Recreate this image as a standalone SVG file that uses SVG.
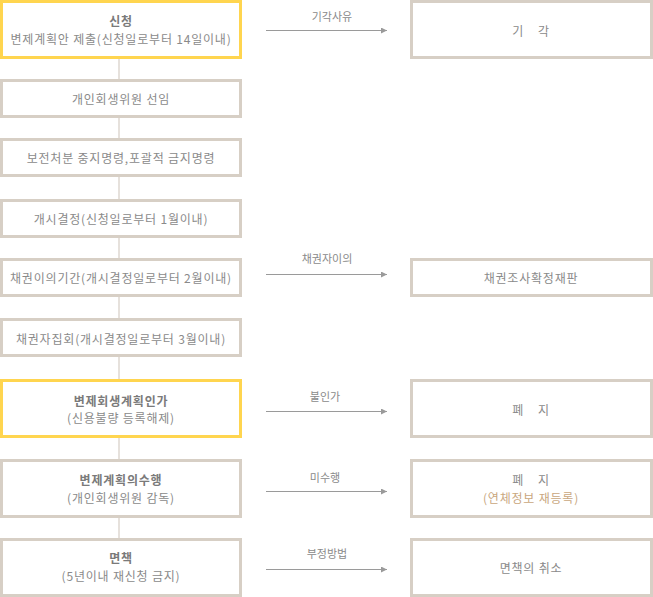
<svg xmlns="http://www.w3.org/2000/svg" width="653" height="597" viewBox="0 0 653 597">
<defs>
<marker id="ah" viewBox="0 0 6 6" refX="6" refY="3" markerWidth="6" markerHeight="6" markerUnits="userSpaceOnUse" orient="auto">
<path d="M0,0 L6,3 L0,6 z" fill="#9a9a9a"/>
</marker>
<style>
.box{fill:#fff;stroke:#d7cfc5;stroke-width:3}
.hi{fill:#fff;stroke:#ffd54f;stroke-width:3}
text{font-family:"Noto Sans CJK KR","Noto Sans",sans-serif;font-size:12px;fill:#8a8a8a;text-anchor:middle;dominant-baseline:central;white-space:pre}
.n text{letter-spacing:0.8px}
.b{font-weight:bold;fill:#7a7a7a}
.lbl{font-size:11px}
.or{fill:#c9a780}
.arr{stroke:#9a9a9a;stroke-width:1;fill:none;marker-end:url(#ah)}
.vl{stroke:#e6e1dc;stroke-width:2}
</style>
</defs>
<g id="connectors">
<line class="vl" x1="119" y1="59" x2="119" y2="538"/>
<line class="arr" x1="266" y1="30.5" x2="387" y2="30.5"/>
<line class="arr" x1="266" y1="274.5" x2="387" y2="274.5"/>
<line class="arr" x1="266" y1="411.5" x2="387" y2="411.5"/>
<line class="arr" x1="266" y1="491.5" x2="387" y2="491.5"/>
<line class="arr" x1="266" y1="569.5" x2="387" y2="569.5"/>
<text class="lbl" x="332" y="16">기각사유</text>
<text class="lbl" x="327" y="258">채권자이의</text>
<text class="lbl" x="325" y="396">불인가</text>
<text class="lbl" x="325" y="477">미수행</text>
<text class="lbl" x="327" y="553">부정방법</text>
</g>
<g id="n1" class="n"><rect class="hi" x="1.5" y="1.5" width="239" height="56"/><text class="b" x="121" y="20">신청</text><text x="121" y="38">변제계획안 제출(신청일로부터 14일이내)</text></g>
<g id="n2" class="n"><rect class="box" x="1.5" y="80.5" width="239" height="36"/><text x="121" y="98">개인회생위원 선임</text></g>
<g id="n3" class="n"><rect class="box" x="1.5" y="139.5" width="239" height="36"/><text x="121" y="157">보전처분 중지명령,포괄적 금지명령</text></g>
<g id="n4" class="n"><rect class="box" x="1.5" y="200.5" width="239" height="36"/><text x="121" y="218">개시결정(신청일로부터 1월이내)</text></g>
<g id="n5" class="n"><rect class="box" x="1.5" y="259.5" width="239" height="36"/><text x="121" y="277">채권이의기간(개시결정일로부터 2월이내)</text></g>
<g id="n6" class="n"><rect class="box" x="1.5" y="319.5" width="239" height="36"/><text x="121" y="338">채권자집회(개시결정일로부터 3월이내)</text></g>
<g id="n7" class="n"><rect class="hi" x="1.5" y="380.5" width="239" height="56"/><text class="b" x="121" y="400">변제회생계획인가</text><text x="121" y="417">(신용불량 등록해제)</text></g>
<g id="n8" class="n"><rect class="box" x="1.5" y="460.5" width="239" height="56"/><text class="b" x="121" y="479">변제계획의수행</text><text x="121" y="497">(개인회생위원 감독)</text></g>
<g id="n9" class="n"><rect class="box" x="1.5" y="539.5" width="239" height="56"/><text class="b" x="121" y="557">면책</text><text x="121" y="575">(5년이내 재신청 금지)</text></g>
<g id="r1" class="n"><rect class="box" x="411.5" y="1.5" width="240" height="56"/><text x="531" y="30">기    각</text></g>
<g id="r5" class="n"><rect class="box" x="411.5" y="259.5" width="240" height="36"/><text x="531" y="277">채권조사확정재판</text></g>
<g id="r7" class="n"><rect class="box" x="411.5" y="380.5" width="240" height="56"/><text x="531" y="409">폐    지</text></g>
<g id="r8" class="n"><rect class="box" x="411.5" y="460.5" width="240" height="56"/><text x="531" y="479">폐    지</text><text class="or" x="531" y="497">(연체정보 재등록)</text></g>
<g id="r9" class="n"><rect class="box" x="411.5" y="539.5" width="240" height="56"/><text x="531" y="567">면책의 취소</text></g>
</svg>
